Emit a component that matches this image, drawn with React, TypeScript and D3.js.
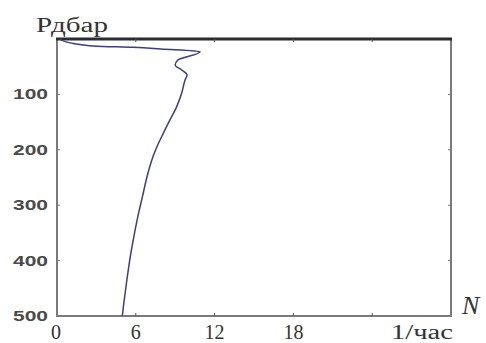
import { useEffect, useRef } from "react";
import * as d3 from "d3";

// N (1/час) against pressure P (дбар)
const nValues = [0.2, 1.0, 3.0, 5.8, 7.9, 10.9, 9.2, 9.0, 9.5, 9.9, 9.75, 9.5, 9.1, 8.6, 8.1, 7.6, 7.3, 6.85, 6.5, 6.15, 5.85, 5.6, 5.32, 5.12, 4.97];
const pValues = [0, 7, 13, 15, 18, 23, 38, 47, 56, 65, 74, 97, 123, 146, 170, 195, 213, 249, 285, 321, 357, 390, 435, 471, 500];

const yTicks = [100, 200, 300, 400, 500];
const xTicks = [6, 12, 18, 24];
const xTickLabels = ["0", "6", "12", "18"];
const xLabelValues = [0, 6, 12, 18];

const serif = "'Liberation Serif', 'Times New Roman', 'DejaVu Serif', serif";

const App = () => {
  const svgRef = useRef<SVGSVGElement | null>(null);

  useEffect(() => {
    if (!svgRef.current) return;
    const width = 486;
    const height = 343;
    const left = 57;
    const right = 451;
    const top = 39;
    const bottom = 316;

    const svg = d3.select(svgRef.current).attr("width", width).attr("height", height);
    svg.selectAll("*").remove();

    const x = d3.scaleLinear().domain([0, 30]).range([left, right]);
    const y = d3.scaleLinear().domain([0, 500]).range([top, bottom]);

    // frame: grey sides, heavy dark top
    svg
      .append("rect")
      .attr("x", left)
      .attr("y", top)
      .attr("width", right - left)
      .attr("height", bottom - top)
      .attr("fill", "none")
      .attr("stroke", "#7a7a7a")
      .attr("stroke-width", 2);
    svg
      .append("line")
      .attr("x1", left - 1)
      .attr("x2", right + 1)
      .attr("y1", top)
      .attr("y2", top)
      .attr("stroke", "#2b2b33")
      .attr("stroke-width", 3);

    // inward ticks
    xTicks.forEach((t) => {
      svg.append("line").attr("x1", x(t)).attr("x2", x(t)).attr("y1", bottom).attr("y2", bottom - 3).attr("stroke", "#555");
      svg.append("line").attr("x1", x(t)).attr("x2", x(t)).attr("y1", top).attr("y2", top + 3).attr("stroke", "#555");
    });
    yTicks.slice(0, 4).forEach((t) => {
      svg.append("line").attr("x1", left).attr("x2", left + 3).attr("y1", y(t)).attr("y2", y(t)).attr("stroke", "#777");
      svg.append("line").attr("x1", right).attr("x2", right - 3).attr("y1", y(t)).attr("y2", y(t)).attr("stroke", "#777");
    });

    // y tick labels
    svg
      .selectAll("text.ylab")
      .data(yTicks)
      .enter()
      .append("text")
      .attr("class", "ylab")
      .attr("x", 48)
      .attr("y", (d) => y(d) + 5)
      .attr("text-anchor", "end")
      .style("font-family", "'Liberation Sans', Arial, sans-serif")
      .style("font-weight", "bold")
      .style("font-size", "14px")
      .attr("fill", "#4a4a4a")
      .attr("textLength", 35)
      .attr("lengthAdjust", "spacingAndGlyphs")
      .text((d) => d);

    // x tick labels
    svg
      .selectAll("text.xlab")
      .data(xLabelValues)
      .enter()
      .append("text")
      .attr("class", "xlab")
      .attr("x", (d) => x(d) - (d === 0 ? 1 : 0))
      .attr("y", 339)
      .attr("text-anchor", "middle")
      .style("font-family", serif)
      .style("font-size", "20px")
      .attr("fill", "#333")
      .text((_, i) => xTickLabels[i]);

    svg
      .append("text")
      .attr("x", 422)
      .attr("y", 339)
      .attr("text-anchor", "middle")
      .style("font-family", serif)
      .style("font-size", "20px")
      .attr("fill", "#333")
      .attr("textLength", 62)
      .attr("lengthAdjust", "spacingAndGlyphs")
      .text("1/час");

    svg
      .append("text")
      .attr("x", 36)
      .attr("y", 32)
      .style("font-family", serif)
      .style("font-size", "20px")
      .attr("fill", "#333")
      .attr("textLength", 72)
      .attr("lengthAdjust", "spacingAndGlyphs")
      .text("Рдбар");

    svg
      .append("text")
      .attr("x", 462)
      .attr("y", 314)
      .style("font-family", serif)
      .style("font-style", "italic")
      .style("font-size", "26px")
      .attr("fill", "#333")
      .text("N");

    // profile line
    const pts = nValues.map((n, i) => [n, pValues[i]] as [number, number]);
    const line = d3
      .line<[number, number]>()
      .x((d) => x(d[0]))
      .y((d) => y(d[1]))
      .curve(d3.curveMonotoneY);
    svg
      .append("path")
      .attr("d", line(pts))
      .attr("fill", "none")
      .attr("stroke", "#3c3f7c")
      .attr("stroke-width", 1.5);
  }, []);

  return <svg ref={svgRef} style={{ position: "absolute", left: 0, top: 0, display: "block" }}></svg>;
};

export default App;
